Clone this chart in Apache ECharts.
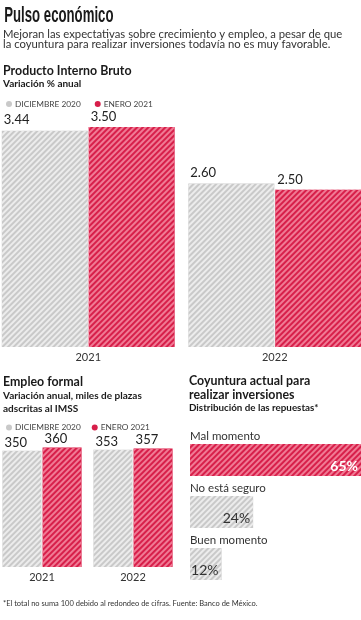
<!DOCTYPE html>
<html>
<head>
<meta charset="utf-8">
<script src="https://cdn.jsdelivr.net/npm/echarts@6/dist/echarts.min.js"></script>
<style>
html,body{margin:0;padding:0;background:#fff;}
#c{width:361px;height:620px;}
</style>
</head>
<body>
<div id="c"></div>
<script>
// ---- data ----
const pibCategories = ['2021', '2022'];
const pibDic2020 = [3.44, 2.60];
const pibEne2021 = [3.50, 2.50];

const empleoCategories = ['2021', '2022'];
const empleoDic2020 = [350, 353];
const empleoEne2021 = [360, 357];

const coyunturaCategories = ['Mal momento', 'No está seguro', 'Buen momento'];
const coyunturaValues = [65, 24, 12];

const seriesNames = ['DICIEMBRE 2020', 'ENERO 2021'];

// ---- styles ----
const GRAY = '#c9c9c9';
const RED = '#d71f4a';
const FONT = 'Lato, "Open Sans", sans-serif';
const grayDecal = { symbol: 'rect', symbolSize: 1, dashArrayX: [1, 0], dashArrayY: [1.5, 1.5], rotation: -Math.PI / 4, color: '#ececec' };
const redDecal = { symbol: 'rect', symbolSize: 1, dashArrayX: [1, 0], dashArrayY: [1.5, 1.5], rotation: -Math.PI / 4, color: '#f07a94' };

function txt(text, x, y, size, weight, color, extra) {
  return Object.assign({
    type: 'text', x: x, y: y, silent: true,
    style: { text: text, fontSize: size, fontWeight: weight, fontFamily: FONT, fill: color, verticalAlign: 'middle', align: 'left' }
  }, extra || {});
}

const chart = echarts.init(document.getElementById('c'));

const labelAbove = (fmt, dy) => ({
  show: true, position: [2, dy], align: 'left', verticalAlign: 'bottom',
  fontFamily: FONT, fontSize: 13, color: '#222', formatter: fmt
});

const legendText = { fontFamily: FONT, fontSize: 8.3, color: '#444', padding: [0, 0, 0, -2] };

const option = {
  animation: false,
  backgroundColor: '#fff',
  legend: [
    {
      left: 1, top: 95, itemWidth: 6, itemHeight: 6, itemGap: 14, icon: 'circle', selectedMode: false,
      textStyle: legendText,
      data: [
        { name: seriesNames[0], itemStyle: { color: GRAY, decal: 'none' } },
        { name: seriesNames[1], itemStyle: { color: RED, decal: 'none' } }
      ]
    },
    {
      left: 1, top: 418.5, itemWidth: 6, itemHeight: 6, itemGap: 11, icon: 'circle', selectedMode: false,
      textStyle: legendText,
      data: [
        { name: seriesNames[0], itemStyle: { color: GRAY, decal: 'none' } },
        { name: seriesNames[1], itemStyle: { color: RED, decal: 'none' } }
      ]
    }
  ],
  grid: [
    { left: -5, right: -7, top: 127, bottom: 273, outerBoundsMode: 'none' },
    { left: -3.5, right: 182.5, top: 447.5, bottom: 53, outerBoundsMode: 'none' },
    { left: 190, right: 0, top: 434, bottom: 30, outerBoundsMode: 'none' }
  ],
  xAxis: [
    { gridIndex: 0, type: 'category', data: pibCategories, axisLine: { show: false }, axisTick: { show: false },
      axisLabel: { margin: 5, fontFamily: FONT, fontSize: 11, color: '#333' } },
    { gridIndex: 1, type: 'category', data: empleoCategories, axisLine: { show: false }, axisTick: { show: false },
      axisLabel: { margin: 5, fontFamily: FONT, fontSize: 11, color: '#333' } },
    { gridIndex: 2, type: 'value', min: 0, max: 65, show: false }
  ],
  yAxis: [
    { gridIndex: 0, type: 'value', min: 0, max: 3.5, show: false },
    { gridIndex: 1, type: 'value', min: 0, max: 360, show: false },
    { gridIndex: 2, type: 'category', data: coyunturaCategories, inverse: true, show: false }
  ],
  series: [
    { name: seriesNames[0], type: 'bar', xAxisIndex: 0, yAxisIndex: 0, data: pibDic2020,
      barWidth: 86, barGap: '1%', itemStyle: { color: GRAY, decal: grayDecal },
      label: labelAbove(p => p.value.toFixed(2), -4) },
    { name: seriesNames[1], type: 'bar', xAxisIndex: 0, yAxisIndex: 0, data: pibEne2021,
      barWidth: 86, barGap: '1%', itemStyle: { color: RED, decal: redDecal },
      label: labelAbove(p => p.value.toFixed(2), -4) },
    { name: seriesNames[0], type: 'bar', xAxisIndex: 1, yAxisIndex: 1, data: empleoDic2020,
      barWidth: 39, barGap: '3%', itemStyle: { color: GRAY, decal: grayDecal },
      label: labelAbove(p => String(p.value), -2) },
    { name: seriesNames[1], type: 'bar', xAxisIndex: 1, yAxisIndex: 1, data: empleoEne2021,
      barWidth: 39, barGap: '3%', itemStyle: { color: RED, decal: redDecal },
      label: labelAbove(p => String(p.value), -2) },
    { name: 'Coyuntura', type: 'bar', xAxisIndex: 2, yAxisIndex: 2, barWidth: 32,
      data: coyunturaValues.map((v, i) => ({
        value: v,
        itemStyle: i === 0 ? { color: RED, decal: redDecal } : { color: GRAY, decal: grayDecal },
        label: i === 0 ? { color: '#fff', fontWeight: 'bold' } : { color: '#333', fontWeight: 'normal' }
      })),
      label: { show: true, position: 'insideBottomRight', distance: 3, fontFamily: FONT, fontSize: 14, formatter: '{c}%' } },
    { name: 'Etiquetas', type: 'bar', xAxisIndex: 2, yAxisIndex: 2, barWidth: 32, barGap: '-100%', silent: true,
      data: coyunturaValues,
      itemStyle: { color: 'rgba(0,0,0,0)' },
      label: { show: true, position: [0, -2], align: 'left', verticalAlign: 'bottom',
        fontFamily: FONT, fontSize: 11.5, color: '#333', formatter: '{b}' } }
  ],
  graphic: [
    { type: 'text', x: 3, y: 16, scaleX: 0.6, originX: 3, silent: true,
      style: { text: 'Pulso económico', fontSize: 22, fontWeight: 'bold', fontFamily: '"Liberation Sans", Arial, sans-serif', fill: '#1a1a1a', verticalAlign: 'middle', align: 'left' } },
    txt('Mejoran las expectativas sobre crecimiento y empleo, a pesar de que', 3, 34, 11.3, 'normal', '#333'),
    txt('la coyuntura para realizar inversiones todavía no es muy favorable.', 3, 44.5, 11.3, 'normal', '#333'),
    txt('Producto Interno Bruto', 3, 70.5, 12.4, 'bold', '#1a1a1a'),
    txt('Variación % anual', 3, 83.5, 10, 'bold', '#1a1a1a'),
    txt('Empleo formal', 3, 381.5, 12.4, 'bold', '#1a1a1a'),
    txt('Variación anual, miles de plazas', 3, 396, 10, 'bold', '#1a1a1a'),
    txt('adscritas al IMSS', 3, 408.5, 10, 'bold', '#1a1a1a'),
    txt('Coyuntura actual para', 189, 381, 12.4, 'bold', '#1a1a1a'),
    txt('realizar inversiones', 189, 394.5, 12.4, 'bold', '#1a1a1a'),
    txt('Distribución de las repuestas*', 189, 408, 9.8, 'bold', '#1a1a1a'),
    txt('*El total no suma 100 debido al redondeo de cifras. Fuente: Banco de México.', 3, 603.5, 7.5, 'normal', '#333')
  ]
};
chart.setOption(option);
</script>
</body>
</html>
